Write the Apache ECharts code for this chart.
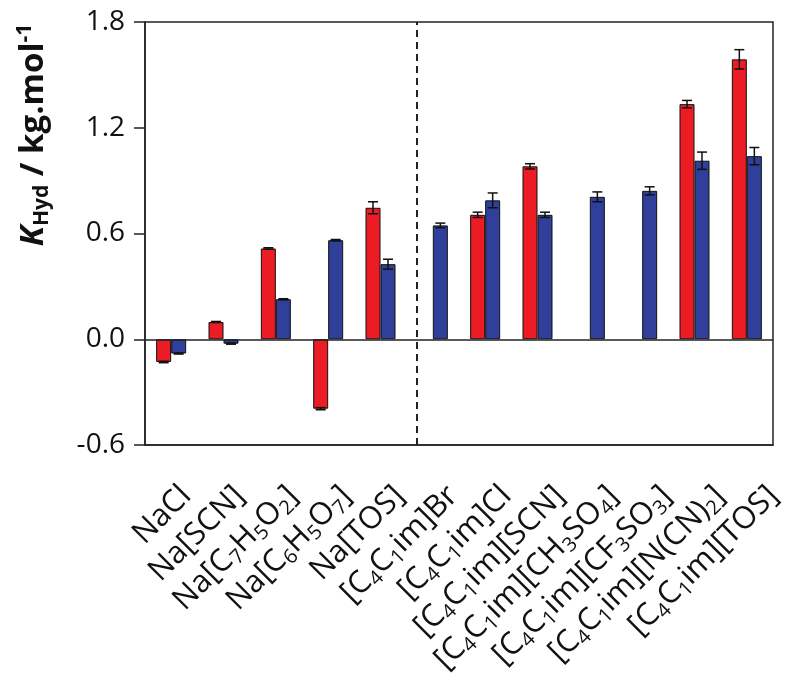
<!DOCTYPE html>
<html>
<head>
<meta charset="utf-8">
<script src="https://cdn.jsdelivr.net/npm/echarts@6/dist/echarts.min.js"></script>
<style>html,body{margin:0;padding:0;background:#fff}#c{width:800px;height:694px}</style>
</head>
<body>
<div id="c"></div>
<script>
const categories = ['NaCl','Na[SCN]','Na[C7H5O2]','Na[C6H5O7]','Na[TOS]','[C4C1im]Br','[C4C1im]Cl','[C4C1im][SCN]','[C4C1im][CH3SO4]','[C4C1im][CF3SO3]','[C4C1im][N(CN)2]','[C4C1im][TOS]'];
const redValues  = [-0.129, 0.098, 0.515, -0.394, 0.746, null, 0.706, 0.981, null, null, 1.334, 1.588];
const redErrors  = [0.004, 0.003, 0.004, 0.006, 0.034, null, 0.015, 0.015, null, null, 0.021, 0.055];
const blueValues = [-0.081, -0.025, 0.227, 0.562, 0.426, 0.646, 0.788, 0.706, 0.808, 0.842, 1.013, 1.039];
const blueErrors = [0.003, 0.003, 0.003, 0.004, 0.028, 0.013, 0.042, 0.015, 0.028, 0.023, 0.049, 0.049];
const yTicks = [-0.6, 0.0, 0.6, 1.2, 1.8];
const dividerAt = 5.2;

const BAR_W = 15;
const FONT = 'Open Sans';

function richLabel(s) {
  let out = '';
  let buf = '';
  for (const ch of s) {
    if (/[0-9]/.test(ch)) {
      if (buf) { out += '{n|' + buf + '}'; buf = ''; }
      out += '{s|' + ch + '}';
    } else buf += ch;
  }
  if (buf) out += '{n|' + buf + '}';
  return out;
}

function errSeries(values, errors, offset) {
  const data = values.map((v, i) => v == null ? null : [i, v, errors[i]]).filter(d => d);
  return {
    type: 'custom',
    z: 5,
    silent: true,
    xAxisIndex: 0, yAxisIndex: 0,
    data: data,
    renderItem: function (params, api) {
      const i = api.value(0), v = api.value(1), e = api.value(2);
      const top = api.coord([i, v + e]);
      const bot = api.coord([i, v - e]);
      const x = top[0] + offset;
      const hw = 5;
      return {
        type: 'group',
        children: [
          {type: 'line', shape: {x1: x, y1: top[1], x2: x, y2: bot[1]}, style: {stroke: '#111', lineWidth: 1.5}},
          {type: 'line', shape: {x1: x - hw, y1: top[1], x2: x + hw, y2: top[1]}, style: {stroke: '#111', lineWidth: 1.5}},
          {type: 'line', shape: {x1: x - hw, y1: bot[1], x2: x + hw, y2: bot[1]}, style: {stroke: '#111', lineWidth: 1.5}}
        ]
      };
    }
  };
}

const chart = echarts.init(document.getElementById('c'), null, {renderer: 'canvas'});
chart.setOption({
  animation: false,
  backgroundColor: '#fff',
  grid: [
    {left: 145, right: 27, top: 22, bottom: 249, show: true, borderColor: '#222', borderWidth: 1.5, backgroundColor: 'transparent'},
    {left: 159.5, right: -13.5, top: 22, bottom: 249, show: false}
  ],
  xAxis: [
    {
      type: 'category', gridIndex: 0,
      data: categories,
      axisLine: {onZero: false, lineStyle: {color: '#222', width: 1.5}},
      axisTick: {show: false},
      axisLabel: {show: false}
    },
    {
      type: 'value', gridIndex: 0, min: 0, max: 12, show: false
    },
    {
      type: 'category', gridIndex: 1,
      data: categories,
      axisLine: {show: false},
      axisTick: {show: false},
      axisLabel: {
        rotate: 45,
        margin: 46,
        interval: 0,
        formatter: v => richLabel(v),
        rich: {
          n: {fontFamily: FONT, fontSize: 31, color: '#111', lineHeight: 36},
          s: {fontFamily: FONT, fontSize: 20, color: '#111', lineHeight: 14, verticalAlign: 'bottom'}
        }
      }
    }
  ],
  yAxis: [
    {
      type: 'value', gridIndex: 0,
      min: -0.6, max: 1.8, interval: 0.6,
      axisLine: {show: true, lineStyle: {color: '#222', width: 1.5}},
      axisTick: {show: true, inside: false, length: 11, lineStyle: {color: '#222', width: 1.5}},
      splitLine: {show: false},
      axisLabel: {
        margin: 20,
        fontFamily: FONT, fontSize: 28, color: '#111',
        formatter: v => { const t = yTicks.find(x => Math.abs(x - v) < 1e-6); return (t != null ? t : v).toFixed(1); }
      },
      name: '{k|K}{sub|Hyd}{n| / kg.mol}{sup|-1}',
      nameLocation: 'middle',
      nameRotate: 90,
      nameGap: 92,
      nameTextStyle: {
        padding: [0, 0, 0, 197],
        rich: {
          k: {fontFamily: FONT, fontSize: 33, fontWeight: 'bold', fontStyle: 'italic', color: '#111', lineHeight: 38},
          sub: {fontFamily: FONT, fontSize: 21, fontWeight: 'bold', color: '#111', lineHeight: 14, verticalAlign: 'bottom'},
          n: {fontFamily: FONT, fontSize: 33, fontWeight: 'bold', color: '#111', lineHeight: 38},
          sup: {fontFamily: FONT, fontSize: 21, fontWeight: 'bold', color: '#111', lineHeight: 14, verticalAlign: 'top'}
        }
      }
    },
    {type: 'value', gridIndex: 1, show: false}
  ],
  series: [
    {
      type: 'bar', name: 'red', data: redValues, barWidth: BAR_W, barGap: '0%',
      xAxisIndex: 0, yAxisIndex: 0,
      itemStyle: {color: '#EC1C24', borderColor: '#111', borderWidth: 1},
      markLine: {
        silent: true, symbol: 'none', label: {show: false},
        data: [
          {yAxis: 0, lineStyle: {color: '#222', width: 1.5, type: 'solid'}}
        ]
      }
    },
    {
      type: 'bar', name: 'blue', data: blueValues, barWidth: BAR_W, barGap: '0%',
      xAxisIndex: 0, yAxisIndex: 0,
      itemStyle: {color: '#2F3F9A', borderColor: '#111', borderWidth: 1}
    },
    errSeries(redValues, redErrors, -BAR_W / 2),
    errSeries(blueValues, blueErrors, BAR_W / 2),
    {
      type: 'line', xAxisIndex: 1, yAxisIndex: 0, data: [], silent: true,
      markLine: {
        silent: true, symbol: 'none', label: {show: false},
        data: [{xAxis: dividerAt, lineStyle: {color: '#222', width: 2, type: [7, 5]}}]
      }
    }
  ]
});
</script>
</body>
</html>
